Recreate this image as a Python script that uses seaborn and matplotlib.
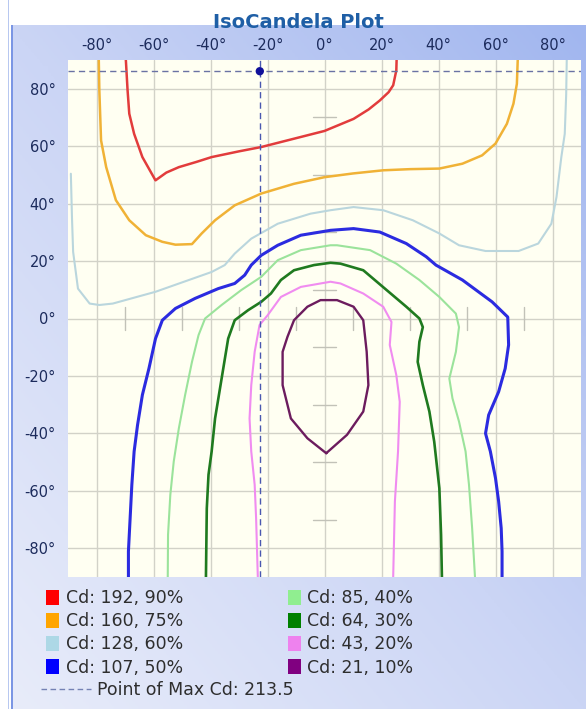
import numpy as np
import pandas as pd
import seaborn as sns
import matplotlib.pyplot as plt
from matplotlib.colors import LinearSegmentedColormap
from matplotlib.patches import Patch, Rectangle
from matplotlib.lines import Line2D

# isocandela contours (horizontal angle, vertical angle in degrees)
red_x = [-69.7, -69.1, -68.5, -66.8, -63.9, -59.3, -55.5, -51.1, -45.0, -39.6, -30.0, -22.2, -10.7, 0.0,
         10.2, 15.5, 19.4, 22.5, 24.1, 25.2, 25.3]
red_y = [90, 79.5, 71.3, 64.3, 56.2, 48.1, 50.8, 52.7, 54.5, 56.2, 58.2, 59.7, 62.6, 65.3,
         69.5, 72.8, 75.9, 78.8, 81.2, 86.4, 90]

orange_x = [-79.2, -79.0, -78.4, -76.6, -73.2, -68.5, -62.7, -56.9, -52.3, -46.5, -43.1, -38.4, -31.5, -22.2,
            -10.7, 0.0, 10.0, 20.6, 30.0, 40.3, 48.4, 55.3, 60.0, 64.0, 66.3, 67.5, 67.8]
orange_y = [90, 79.4, 62.0, 52.7, 41.2, 34.2, 29.0, 26.7, 25.7, 25.9, 29.6, 34.2, 39.4, 43.5,
            46.9, 49.2, 50.5, 51.6, 52.0, 52.2, 53.9, 56.8, 60.9, 67.8, 74.8, 81.7, 90]

lblue_x = [-89.0, -88.6, -88.2, -86.5, -82.4, -79.0, -74.3, -59.3, -39.6, -35.0, -31.5, -25.7, -16.4, -4.9,
           2.1, 10.2, 20.6, 31.0, 40.3, 47.2, 56.5, 68.1, 75.0, 79.6, 81.4, 83.1, 84.3, 84.8, 85.0]
lblue_y = [50.4, 35.0, 23.2, 10.4, 5.2, 4.7, 5.2, 9.3, 16.2, 18.6, 22.6, 27.8, 33.0, 36.5,
           37.7, 38.8, 37.7, 34.2, 29.6, 25.5, 23.5, 23.5, 26.1, 33.0, 42.3, 56.2, 64.3, 78.0, 90]

blue_x = [-68.8, -68.8, -68.2, -67.6, -66.8, -65.6, -63.9, -61.6, -59.3, -56.9, -52.3, -45.4, -37.3, -31.5,
          -28.0, -25.7, -22.2, -16.4, -8.3, 2.1, 10.2, 19.4, 28.7, 35.7, 39.1, 48.4, 58.8, 64.3, 64.6,
          63.4, 61.1, 57.6, 56.5, 58.2, 60.0, 61.1, 62.0, 62.3, 62.3]
blue_y = [-90, -81.1, -69.5, -57.9, -46.3, -37.1, -26.6, -17.4, -7.0, -0.6, 3.5, 7.0, 10.4, 12.2,
          15.1, 18.6, 22.0, 25.5, 29.0, 30.7, 31.3, 30.1, 26.1, 21.5, 18.6, 13.4, 5.8, 0.5, -9.2,
          -17.4, -25.5, -33.6, -40.0, -46.3, -55.6, -63.7, -73.0, -81.1, -90]

lgreen_x = [-55.0, -54.9, -54.1, -52.9, -51.1, -48.9, -46.5, -44.2, -41.9, -36.1, -29.2, -22.2, -16.4, -8.3,
            2.1, 4.4, 16.0, 25.2, 33.3, 40.3, 46.1, 47.2, 46.1, 43.8, 44.9, 47.2, 49.5, 50.7, 51.8, 52.8]
lgreen_y = [-90, -75.3, -61.4, -49.8, -38.2, -26.6, -15.1, -5.8, 0.0, 4.7, 9.9, 14.5, 20.3, 23.8,
            25.5, 25.5, 23.8, 19.1, 13.4, 7.5, 1.7, -3.0, -11.6, -20.9, -27.8, -35.9, -46.3, -57.9, -73.0, -90]

dgreen_x = [-41.6, -41.3, -40.7, -39.6, -38.4, -36.1, -33.8, -31.5, -26.8, -22.2, -18.8, -15.3, -10.7, -3.7,
            2.1, 5.6, 13.6, 21.8, 28.7, 33.3, 34.5, 33.3, 32.7, 34.5, 36.8, 38.5, 40.3, 40.9, 41.2]
dgreen_y = [-90, -66.1, -54.4, -46.3, -34.8, -20.9, -7.0, -0.6, 2.9, 5.8, 8.7, 13.4, 16.8, 18.6,
            19.4, 19.1, 16.8, 9.9, 4.1, 0.0, -3.0, -8.1, -15.1, -23.2, -32.4, -42.9, -59.1, -75.3, -90]

pink_x = [-23.4, -24.0, -24.5, -25.7, -26.3, -25.7, -24.5, -22.8, -19.9, -15.3, -8.3, 2.1, 5.6, 13.6,
          20.6, 23.5, 22.9, 25.2, 26.4, 25.8, 24.7, 24.1]
pink_y = [-90, -69.5, -57.9, -46.3, -34.8, -23.2, -11.6, -2.3, 1.2, 7.5, 11.0, 12.8, 12.2, 8.7,
          4.1, -1.2, -9.2, -19.7, -29.0, -46.3, -63.7, -90]

purple_x = [0.6, 7.9, 13.6, 15.4, 14.8, 13.6, 10.2, 4.4, -1.4, -6.0, -10.7, -13.0, -14.7, -14.7,
            -11.8, -6.0, 0.6]
purple_y = [-46.9, -40.5, -32.4, -23.2, -11.6, -0.6, 4.1, 6.4, 6.4, 4.1, -0.6, -6.4, -11.6, -23.2,
            -34.8, -41.7, -46.9]

labels = ["Cd: 192, 90%", "Cd: 160, 75%", "Cd: 128, 60%", "Cd: 107, 50%",
          "Cd: 85, 40%", "Cd: 64, 30%", "Cd: 43, 20%", "Cd: 21, 10%"]
legend_colors = ["#ff0000", "#ffa500", "#add8e6", "#0000ff", "#90ee90", "#008000", "#ee82ee", "#800080"]
line_colors = ["#e23c3c", "#f0b236", "#bad6dd", "#2b2be0", "#9be39b", "#1f7a1f", "#f08cf0", "#6c1c5e"]
line_widths = [1.8, 1.8, 1.5, 2.2, 1.5, 1.9, 1.5, 1.7]

max_x, max_y = -22.7, 86.1
max_cd = 213.5

tick_vals = [-80, -60, -40, -20, 0, 20, 40, 60, 80]
minor_vals = [-70, -50, -30, -10, 10, 30, 50, 70]

contours = [(red_x, red_y), (orange_x, orange_y), (lblue_x, lblue_y), (blue_x, blue_y),
            (lgreen_x, lgreen_y), (dgreen_x, dgreen_y), (pink_x, pink_y), (purple_x, purple_y)]

sns.set_theme(style="white")
plt.rcParams['font.family'] = ['DejaVu Sans']

W, H = 586, 709
fig = plt.figure(figsize=(W / 100, H / 100), dpi=100)
fig.patch.set_facecolor("white")

# bluish gradient panel behind everything
bg = fig.add_axes([11 / W, 0, 1 - 11 / W, 1 - 25 / H], zorder=-10)
yy, xx = np.mgrid[0:1:200j, 0:1:200j]
grad = 0.6 * xx + 0.6 * (1 - yy)
cmap = LinearSegmentedColormap.from_list("panel", ["#e8ecfa", "#cbd5f5", "#a1b6ef"])
bg.imshow(grad, cmap=cmap, aspect="auto", extent=[0, 1, 0, 1], origin="upper")
bg.axis("off")
fig.patches.append(Rectangle((11 / W, 0), 2 / W, 1 - 25 / H, transform=fig.transFigure,
                             facecolor="#7b96e4", edgecolor="none", zorder=-5))
fig.patches.append(Rectangle((8 / W, 0), 1.5 / W, 1, transform=fig.transFigure,
                             facecolor="#b8c8f0", edgecolor="none", zorder=-5))

ax = fig.add_axes([68 / W, 1 - 577 / H, (581 - 68) / W, (577 - 60) / H])
ax.set_facecolor("#fffff2")

for (cx, cy), col, lw in zip(contours, line_colors, line_widths):
    sns.lineplot(x=cx, y=cy, sort=False, estimator=None, color=col, lw=lw, ax=ax, zorder=3)

# small inner ticks on the centre axes
for v in minor_vals:
    ax.plot([-4, 4], [v, v], color="#c2c2b8", lw=1, zorder=1)
    ax.plot([v, v], [-4, 4], color="#c2c2b8", lw=1, zorder=1)

# point of max candela
ax.axvline(max_x, color="#4a58b0", lw=1, dashes=(4.5, 3), zorder=4)
ax.axhline(max_y, color="#6a72a4", lw=1, dashes=(4.5, 3), zorder=4)
sns.scatterplot(x=[max_x], y=[max_y], color="#10109a", s=36, edgecolor="none", ax=ax, zorder=5)

ax.set_xlim(-90, 90)
ax.set_ylim(-90, 90)
ax.set_xticks(tick_vals)
ax.set_yticks(tick_vals)
ax.set_xticklabels([f"{v}°" for v in tick_vals])
ax.set_yticklabels([f"{v}°" for v in tick_vals])
ax.xaxis.tick_top()
ax.tick_params(axis="both", length=0, labelsize=10.5, labelcolor="#1c2b5c")
ax.tick_params(axis="x", pad=5)
ax.tick_params(axis="y", pad=9)
ax.grid(True, color="#d2d2c8", lw=1)
ax.set_axisbelow(True)
ax.set_xlabel("")
ax.set_ylabel("")
for s in ax.spines.values():
    s.set_visible(False)

fig.text(298 / W, 1 - 22 / H, "IsoCandela Plot", ha="center", va="center",
         fontsize=14, fontweight="bold", color="#1f5fa6")

handles = [Patch(facecolor=c, edgecolor="none") for c in legend_colors]
leg = fig.legend(handles, labels, ncol=2, loc="upper left", bbox_to_anchor=(46 / W, 1 - 589 / H),
                 frameon=False, fontsize=12.5, handlelength=0.75, handleheight=0.95, handletextpad=0.4,
                 labelspacing=0.3, columnspacing=6.0, borderpad=0, borderaxespad=0)
for t in leg.get_texts():
    t.set_color("#2e2e2e")

dash_handle = Line2D([], [], color="#7482b4", lw=1, dashes=(4, 2.5))
leg2 = fig.legend([dash_handle], [f"Point of Max Cd: {max_cd}"], loc="upper left",
                  bbox_to_anchor=(41 / W, 1 - 681 / H), frameon=False, fontsize=12.5,
                  handlelength=2.9, handletextpad=0.35, borderpad=0, borderaxespad=0)
for t in leg2.get_texts():
    t.set_color("#2e2e2e")

fig.savefig("out.png", dpi=100)
